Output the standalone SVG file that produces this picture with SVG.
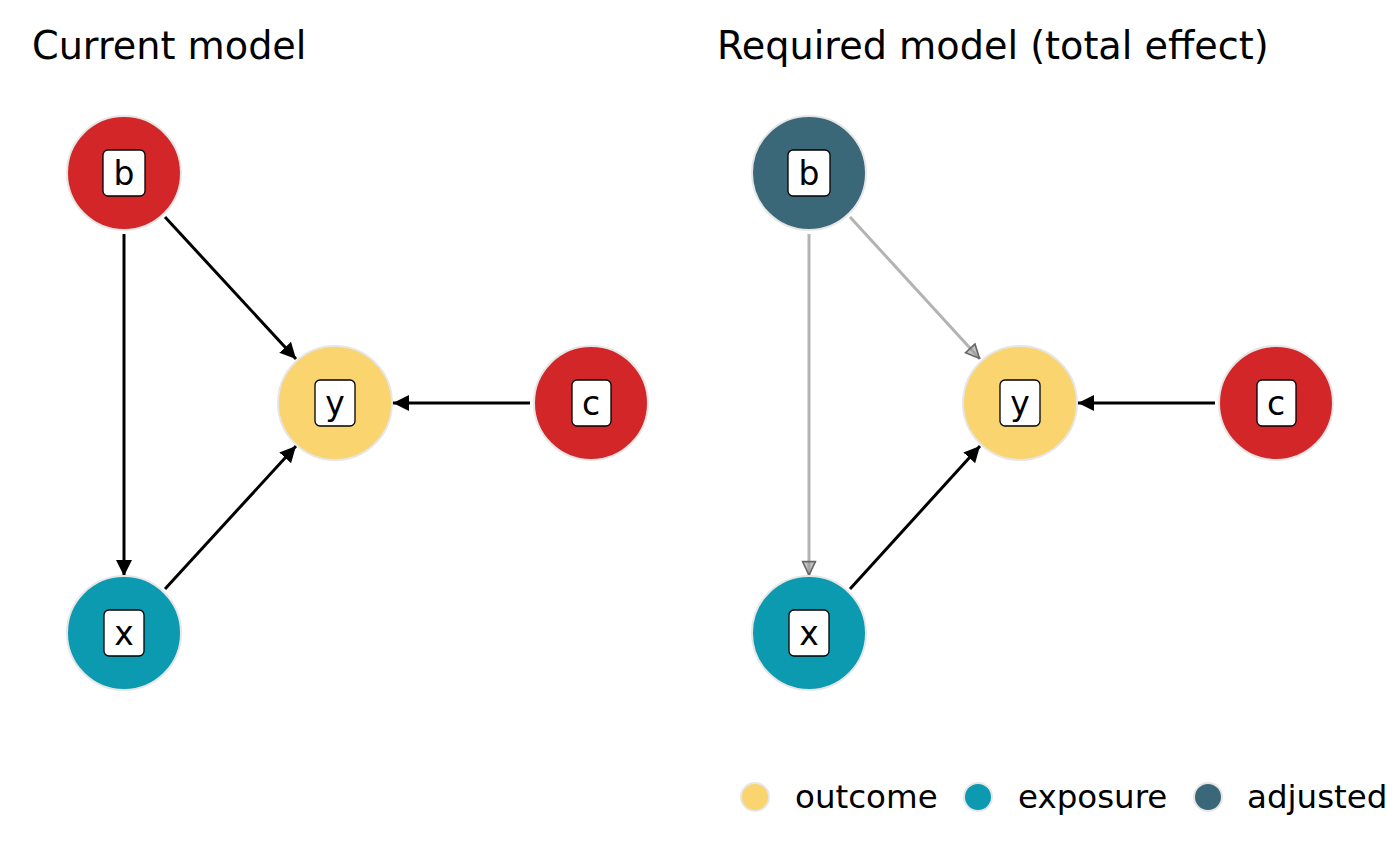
<svg xmlns="http://www.w3.org/2000/svg" width="1400" height="866" viewBox="0 0 1400 866">
<defs>
<style>
text{font-family:"DejaVu Sans","Liberation Sans",sans-serif;fill:#000}
.title{font-size:38.2px}
.lbl{font-size:33px;text-anchor:middle}
.leg{font-size:32.5px}
.node{stroke:#e6e6e6;stroke-width:2}
.box{fill:#fff;stroke:#000;stroke-width:1.3}
.e{stroke:#000;stroke-width:3;fill:none}
.g{stroke:#b3b3b3;stroke-width:3;fill:none}
.red{fill:#D32628}.yel{fill:#FAD46E}.teal{fill:#0C9AB1}.adj{fill:#3B6878}
</style>
<marker id="ahg" viewBox="0 0 10 10" refX="10" refY="5" markerWidth="16" markerHeight="16" markerUnits="userSpaceOnUse" orient="auto">
<path d="M1,1 L9.5,5 L1,9 z" fill="#999" fill-opacity="0.6" stroke="#666" stroke-width="1"/>
</marker>
<marker id="ahb" viewBox="0 0 10 10" refX="10" refY="5" markerWidth="16" markerHeight="16" markerUnits="userSpaceOnUse" orient="auto">
<path d="M0,0 L10,5 L0,10 z" fill="#000"/>
</marker>
</defs>
<rect width="1400" height="866" fill="#fff"/>
<text class="title" x="32" y="59">Current model</text>
<text class="title" x="717" y="59">Required model (total effect)</text>
<g id="connectors">
<line class="e" x1="165" y1="217" x2="296" y2="359" marker-end="url(#ahb)"/>
<line class="e" x1="124" y1="234" x2="124" y2="576" marker-end="url(#ahb)"/>
<line class="e" x1="165" y1="589" x2="296" y2="446" marker-end="url(#ahb)"/>
<line class="e" x1="530" y1="403" x2="393" y2="403" marker-end="url(#ahb)"/>
<line class="g" x1="850" y1="217" x2="980" y2="359" marker-end="url(#ahg)"/>
<line class="g" x1="809" y1="234" x2="809" y2="576" marker-end="url(#ahg)"/>
<line class="e" x1="850" y1="589" x2="980" y2="446" marker-end="url(#ahb)"/>
<line class="e" x1="1215" y1="403" x2="1078" y2="403" marker-end="url(#ahb)"/>
</g>
<g id="left-b"><circle class="node red" cx="124" cy="173" r="57"/><rect class="box" x="103" y="150" width="42" height="46" rx="5"/><text class="lbl" x="124" y="185">b</text></g>
<g id="left-y"><circle class="node yel" cx="335" cy="403" r="57"/><rect class="box" x="315" y="380" width="40" height="46" rx="5"/><text class="lbl" x="335" y="415">y</text></g>
<g id="left-c"><circle class="node red" cx="591" cy="403" r="57"/><rect class="box" x="572" y="380" width="39" height="46" rx="5"/><text class="lbl" x="591" y="415">c</text></g>
<g id="left-x"><circle class="node teal" cx="124" cy="633" r="57"/><rect class="box" x="104" y="610" width="40" height="46" rx="5"/><text class="lbl" x="124" y="645">x</text></g>
<g id="right-b"><circle class="node adj" cx="809" cy="173" r="57"/><rect class="box" x="788" y="150" width="42" height="46" rx="5"/><text class="lbl" x="809" y="185">b</text></g>
<g id="right-y"><circle class="node yel" cx="1020" cy="403" r="57"/><rect class="box" x="1000" y="380" width="40" height="46" rx="5"/><text class="lbl" x="1020" y="415">y</text></g>
<g id="right-c"><circle class="node red" cx="1276" cy="403" r="57"/><rect class="box" x="1257" y="380" width="39" height="46" rx="5"/><text class="lbl" x="1276" y="415">c</text></g>
<g id="right-x"><circle class="node teal" cx="809" cy="633" r="57"/><rect class="box" x="789" y="610" width="40" height="46" rx="5"/><text class="lbl" x="809" y="645">x</text></g>
<g id="legend">
<circle class="node yel" cx="755" cy="797" r="14"/><text class="leg" x="795" y="808">outcome</text>
<circle class="node teal" cx="978" cy="797" r="14"/><text class="leg" x="1018" y="808">exposure</text>
<circle class="node adj" cx="1208" cy="797" r="14"/><text class="leg" x="1247" y="808">adjusted</text>
</g>
</svg>
